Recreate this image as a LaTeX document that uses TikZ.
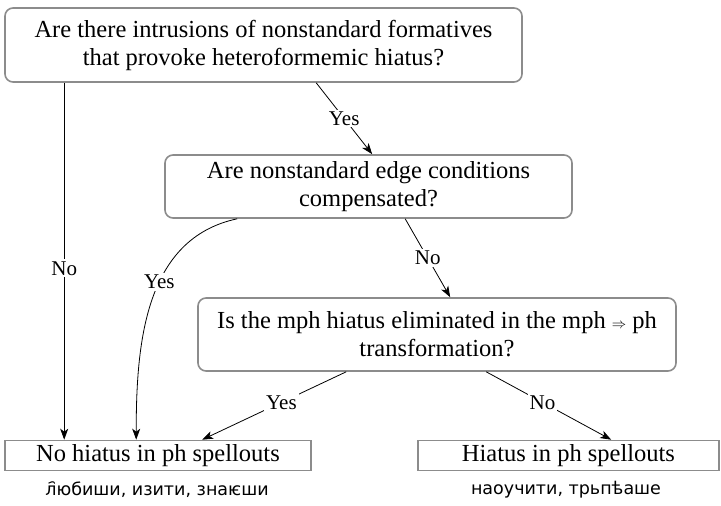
\documentclass[tikz,border=0pt]{standalone}
\usepackage{fontspec}
\setmainfont{Liberation Serif}
\newfontfamily\cslfont{DejaVu Sans}
\usetikzlibrary{arrows.meta}
\definecolor{boxgray}{gray}{0.55}
\begin{document}
\begin{tikzpicture}[x=1pt,y=-1pt,
  qbox/.style={draw=boxgray, line width=1.6pt, rounded corners=8pt, align=center,
    font=\fontsize{24.5}{28}\selectfont, inner sep=0pt},
  rbox/.style={draw=boxgray, line width=1.6pt, align=center,
    font=\fontsize{24.5}{28}\selectfont, inner sep=0pt, minimum height=30pt},
  arr/.style={-{Stealth[length=11pt,width=8pt,inset=3pt]}, line width=0.8pt},
  lab/.style={fill=white, font=\fontsize{21}{22}\selectfont, inner sep=2pt},
  cslab/.style={font=\cslfont\fontsize{17.5}{20}\selectfont, inner sep=0pt}]
\useasboundingbox (0,0) rectangle (721,506);
\node[qbox, minimum width=517pt, minimum height=74pt] (q1) at (263.5,45)
  {Are there intrusions of nonstandard formatives\\that provoke heteroformemic hiatus?};
\node[qbox, minimum width=407pt, minimum height=63pt] (q2) at (368.5,186.5)
  {Are nonstandard edge conditions\\compensated?};
\node[qbox, minimum width=478pt, minimum height=73pt] (q3) at (437,334.5)
  {Is the mph hiatus eliminated in the mph {\fontsize{15}{15}\selectfont$\Rightarrow$} ph\\transformation?};
\node[rbox, minimum width=306pt] (r1) at (158,455.5) {No hiatus in ph spellouts};
\node[rbox, minimum width=301pt] (r2) at (568.5,455.5) {Hiatus in ph spellouts};
\node[cslab] (c1) at (157,490) {л҄юбиши, изити, знаѥши};
\node[cslab] (c2) at (566,490) {наоучити, трьпѣаше};

\draw[arr] ([xshift=60pt]q1.south west) -- node[lab, pos=0.52] (l1) {No} ([xshift=60pt]r1.north west);
\draw[arr] ([xshift=312pt]q1.south west) -- node[lab] (l2) {Yes} ([xshift=208pt]q2.north west);
\draw[arr] ([xshift=73pt]q2.south west) to[out=192,in=90] node[lab, pos=0.42] (l3) {Yes} ([xshift=132pt]r1.north west);
\draw[arr] ([xshift=241pt]q2.south west) -- node[lab] (l4) {No} ([xshift=253pt]q3.north west);
\draw[arr] ([xshift=149pt]q3.south west) -- node[lab, pos=0.45] (l5) {Yes} ([xshift=198pt]r1.north west);
\draw[arr] ([xshift=289pt]q3.south west) -- node[lab, pos=0.45] (l6) {No} ([xshift=194pt]r2.north west);
\end{tikzpicture}
\end{document}
